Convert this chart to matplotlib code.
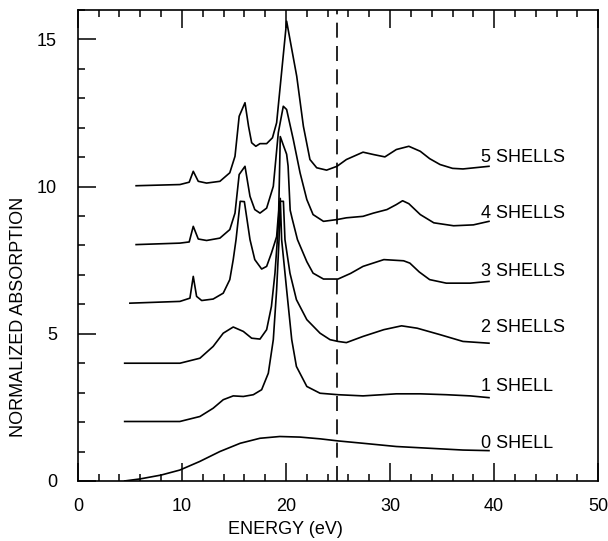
import matplotlib
matplotlib.use("Agg")
import matplotlib.pyplot as plt
from matplotlib.ticker import MultipleLocator

plt.rcParams['font.family'] = ['Liberation Sans', 'DejaVu Sans']

# curves (energy in eV, offset absorption)
x0 = [4.5, 6.0, 8.0, 9.8, 11.7, 13.65, 15.6, 17.5, 19.4, 21.35, 23.3, 25.0, 27.4, 30.6,
      33.8, 37.0, 39.5]
y0 = [0.0, 0.07, 0.2, 0.37, 0.66, 1.0, 1.28, 1.45, 1.51, 1.49, 1.43, 1.36, 1.28, 1.17,
      1.11, 1.05, 1.03]

x1 = [4.5, 9.8, 11.73, 13.0, 13.97, 14.93, 15.9, 16.86, 17.66, 18.3, 18.78, 19.1, 19.33,
      19.45, 19.58, 20.06, 20.55, 21.0, 22.0, 23.27, 25.0, 27.4, 30.6, 32.9, 35.4, 37.7, 39.5]
y1 = [2.02, 2.02, 2.19, 2.47, 2.76, 2.89, 2.87, 2.93, 3.1, 3.66, 4.8, 6.5, 8.2,
      9.6, 8.2, 6.5, 4.8, 3.89, 3.21, 2.98, 2.93, 2.89, 2.96, 2.96, 2.93, 2.89, 2.83]

x2 = [4.5, 9.81, 11.73, 13.0, 13.97, 14.93, 15.9, 16.7, 17.5, 18.14, 18.6, 18.94, 19.17,
      19.4, 19.75, 19.9, 20.38, 21.0, 22.0, 23.27, 24.23, 25.0, 25.8, 27.4, 29.4, 31.1,
      32.6, 34.8, 37.0, 39.5]
y2 = [4.0, 4.0, 4.17, 4.57, 5.02, 5.23, 5.08, 4.85, 4.82, 5.14, 5.93, 7.06, 8.2,
      9.5, 9.5, 8.2, 7.06, 6.16, 5.48, 5.02, 4.8, 4.74, 4.7, 4.91, 5.14, 5.27,
      5.19, 4.97, 4.74, 4.68]

x3 = [5.0, 9.81, 10.77, 11.09, 11.41, 11.9, 13.0, 13.97, 14.6, 14.93, 15.2, 15.6, 16.0,
      16.54, 17.0, 17.66, 18.14, 18.6, 19.1, 19.3, 19.45, 19.75, 20.06, 20.2, 20.4, 20.6,
      21.1, 22.0, 22.6, 23.6, 25.0, 26.2, 27.4, 29.4, 31.3, 31.9, 32.8, 33.8, 35.4, 37.7, 39.5]
y3 = [6.04, 6.1, 6.21, 6.95, 6.27, 6.13, 6.18, 6.38, 6.84, 7.52, 8.2, 9.5, 9.49,
      8.2, 7.52, 7.2, 7.29, 7.74, 8.3, 9.2, 11.7, 11.4, 11.1, 10.7, 9.2, 8.9,
      8.2, 7.45, 7.06, 6.86, 6.86, 7.05, 7.29, 7.52, 7.48, 7.4, 7.1, 6.84, 6.72, 6.72, 6.78]

x4 = [5.6, 9.81, 10.7, 11.09, 11.57, 12.37, 13.65, 14.6, 15.1, 15.5, 16.06, 16.54, 17.0,
      17.5, 18.14, 18.78, 19.26, 19.74, 20.06, 20.7, 21.35, 22.0, 22.6, 23.6, 24.9, 25.8,
      27.4, 28.4, 29.7, 30.6, 31.2, 31.8, 32.9, 34.2, 36.1, 38.0, 39.5]
y4 = [8.03, 8.08, 8.12, 8.65, 8.22, 8.17, 8.25, 8.54, 9.1, 10.41, 10.69, 9.67, 9.22,
      9.1, 9.27, 10.01, 11.83, 12.73, 12.62, 11.6, 10.47, 9.56, 9.05, 8.82, 8.88, 8.94,
      8.99, 9.1, 9.22, 9.39, 9.52, 9.42, 9.05, 8.77, 8.67, 8.7, 8.82]

x5 = [5.6, 9.81, 10.7, 11.09, 11.57, 12.37, 13.65, 14.6, 15.1, 15.5, 16.06, 16.4, 16.7,
      17.1, 17.5, 18.14, 18.7, 19.1, 20.06, 21.03, 21.67, 22.3, 22.95, 23.9, 24.9, 25.8,
      27.4, 28.4, 29.5, 30.6, 31.8, 32.9, 33.8, 34.8, 36.0, 37.0, 39.5]
y5 = [10.03, 10.07, 10.15, 10.52, 10.18, 10.12, 10.18, 10.47, 11.03, 12.39, 12.85, 12.05,
      11.49, 11.37, 11.46, 11.46, 11.66, 12.17, 15.62, 13.75, 12.05, 10.92, 10.64, 10.56,
      10.69, 10.92, 11.17, 11.09, 11.01, 11.26, 11.37, 11.2, 10.95, 10.75, 10.62, 10.6, 10.69]

labels = ['0 SHELL', '1 SHELL', '2 SHELLS', '3 SHELLS', '4 SHELLS', '5 SHELLS']
label_y = [1.28, 3.2, 5.2, 7.1, 9.1, 11.0]
label_x = 38.7
edge_x = 24.9

fig = plt.figure(figsize=(6.08, 5.41), dpi=100)
ax = fig.add_axes([0.128, 0.111, 0.856, 0.8705])

for xs, ys in [(x0, y0), (x1, y1), (x2, y2), (x3, y3), (x4, y4), (x5, y5)]:
    ax.plot(xs, ys, color='black', lw=1.2, solid_joinstyle='round')

for lab, ly in zip(labels, label_y):
    ax.text(label_x, ly, lab, fontsize=13, va='center', ha='left')

ax.axvline(edge_x, color='black', lw=1.2, dashes=(9, 5))

ax.set_xlim(0, 50)
ax.set_ylim(0, 16)
ax.xaxis.set_major_locator(MultipleLocator(10))
ax.xaxis.set_minor_locator(MultipleLocator(2))
ax.yaxis.set_major_locator(MultipleLocator(5))
ax.yaxis.set_minor_locator(MultipleLocator(1))
ax.tick_params(which='both', direction='in', top=True, right=False, width=1.1)
ax.tick_params(which='major', length=13)
ax.tick_params(which='minor', length=5)
ax.tick_params(axis='x', which='major', pad=12, labelsize=13)
ax.tick_params(axis='y', which='major', pad=15, labelsize=13)
for s in ax.spines.values():
    s.set_linewidth(1.2)

ax.set_xlabel('ENERGY (eV)', fontsize=13)
ax.xaxis.set_label_coords(0.398, -0.085)
ax.set_ylabel('NORMALIZED ABSORPTION', fontsize=13)
ax.yaxis.set_label_coords(-0.098, 0.348)

fig.savefig('out.png', dpi=100)
